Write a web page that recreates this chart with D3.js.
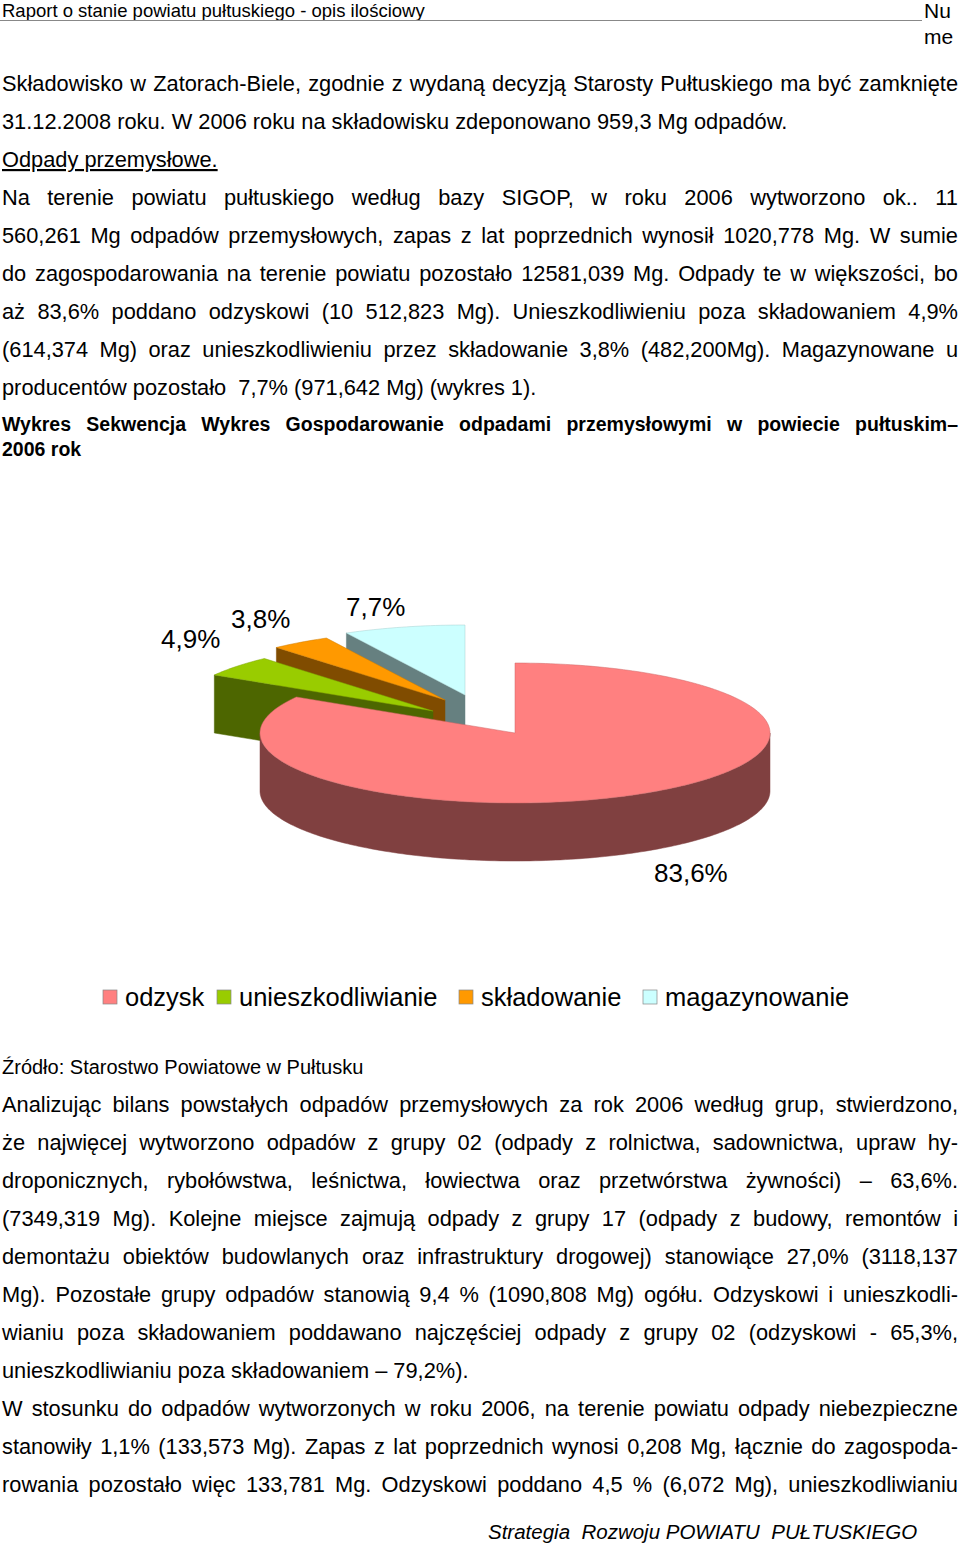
<!DOCTYPE html>
<html><head><meta charset="utf-8">
<script src="https://d3js.org/d3.v7.min.js"></script>
<style>body{margin:0;background:#fff}svg{display:block;font-family:"Liberation Sans",Arial,sans-serif}</style>
</head><body><svg id="page" width="960" height="1546"></svg>
<script>
var categories = ["odzysk", "unieszkodliwianie", "składowanie", "magazynowanie"];
var shares = [83.6, 4.9, 3.8, 7.7];
var shareLabels = ["83,6%", "4,9%", "3,8%", "7,7%"];
var topColors = ["#ff8080", "#99cc00", "#ff9900", "#ccffff"];
var sideColors = ["#804040", "#4d6600", "#804c00", "#668080"];

var textTop = [
  ["Składowisko w Zatorach-Biele,  zgodnie z wydaną decyzją Starosty Pułtuskiego ma być zamknięte", 1],
  ["31.12.2008 roku. W 2006 roku na składowisku zdeponowano 959,3 Mg odpadów.", 0],
  ["Odpady przemysłowe.", 2],
  ["Na terenie powiatu pułtuskiego według bazy SIGOP, w roku 2006 wytworzono ok.. 11", 1],
  ["560,261 Mg odpadów przemysłowych, zapas z lat poprzednich wynosił 1020,778 Mg. W sumie", 1],
  ["do zagospodarowania na terenie powiatu pozostało 12581,039 Mg. Odpady te w większości, bo", 1],
  ["aż 83,6% poddano odzyskowi (10 512,823 Mg). Unieszkodliwieniu poza składowaniem 4,9%", 1],
  ["(614,374 Mg) oraz unieszkodliwieniu przez składowanie 3,8% (482,200Mg). Magazynowane u", 1],
  ["producentów pozostało  7,7% (971,642 Mg) (wykres 1).", 0]
];
var textBottom = [
  ["Analizując bilans powstałych odpadów przemysłowych za rok 2006 według grup, stwierdzono,", 1],
  ["że najwięcej wytworzono odpadów z grupy 02 (odpady z rolnictwa, sadownictwa, upraw hy-", 1],
  ["droponicznych, rybołówstwa, leśnictwa, łowiectwa oraz przetwórstwa żywności) – 63,6%.", 1],
  ["(7349,319 Mg). Kolejne miejsce zajmują odpady z grupy 17 (odpady z budowy, remontów i", 1],
  ["demontażu obiektów budowlanych oraz infrastruktury drogowej) stanowiące 27,0% (3118,137", 1],
  ["Mg). Pozostałe grupy odpadów stanowią 9,4 % (1090,808 Mg) ogółu. Odzyskowi i unieszkodli-", 1],
  ["wianiu poza składowaniem poddawano najczęściej odpady z grupy 02 (odzyskowi - 65,3%,", 1],
  ["unieszkodliwianiu poza składowaniem – 79,2%).", 0],
  ["W stosunku do odpadów wytworzonych w roku 2006, na terenie powiatu odpady niebezpieczne", 1],
  ["stanowiły 1,1% (133,573 Mg). Zapas z lat poprzednich wynosi 0,208 Mg, łącznie do zagospoda-", 1],
  ["rowania pozostało więc 133,781 Mg. Odzyskowi poddano 4,5 % (6,072 Mg), unieszkodliwianiu", 1]
];

var svg = d3.select("#page");

function writeLine(str, y, justify, opt) {
  opt = opt || {};
  var x0 = 2, x1 = 958, size = opt.size || 21.8;
  var g = svg.append("g").attr("font-size", size).attr("font-weight", opt.weight || "normal");
  if (!justify) {
    var t = g.append("text").attr("x", x0).attr("y", y).text(str).style("white-space", "pre");
    if (opt.underline) t.attr("text-decoration", "underline");
    return;
  }
  var words = str.split(/\s+/);
  var nodes = words.map(function(w) { return g.append("text").attr("y", y).text(w); });
  var widths = nodes.map(function(n) { return n.node().getComputedTextLength(); });
  var gap = (x1 - x0 - d3.sum(widths)) / (words.length - 1);
  var x = x0;
  nodes.forEach(function(n, i) { n.attr("x", x); x += widths[i] + gap; });
}

// header
svg.append("text").attr("x", 2).attr("y", 17).attr("font-size", 18.5)
  .text("Raport o stanie powiatu pułtuskiego - opis ilościowy");
svg.append("line").attr("x1", 0).attr("x2", 922).attr("y1", 20.5).attr("y2", 20.5).attr("stroke", "#888");
svg.append("text").attr("x", 924).attr("y", 18).attr("font-size", 21).text("Nu");
svg.append("text").attr("x", 924).attr("y", 44).attr("font-size", 21).text("me");

textTop.forEach(function(d, i) { writeLine(d[0], 91 + i * 38, d[1] === 1, {underline: d[1] === 2}); });
writeLine("Wykres Sekwencja Wykres Gospodarowanie odpadami przemysłowymi w powiecie pułtuskim–", 431, true, {size: 19.5, weight: "bold"});
writeLine("2006 rok", 456, false, {size: 19.5, weight: "bold"});

// 3D pie
var cx = 515, cy = 733, rx = 255, ry = 70, depth = 58;
var pie = d3.pie().sort(null).value(function(d) { return d; }).startAngle(0).endAngle(2 * Math.PI);
var arcs = pie(shares);
var offsets = [[0, 0], [-82, -22], [-70, -33], [-50, -38]];
function pt(a, ox, oy, dz) { return [cx + ox + rx * Math.sin(a), cy + oy - ry * Math.cos(a) + (dz || 0)]; }
function arcPts(a0, a1, ox, oy, dz) {
  var n = Math.max(2, Math.ceil((a1 - a0) / 0.02)), s = d3.range(n + 1).map(function(i) { return a0 + (a1 - a0) * i / n; });
  return s.map(function(a) { return pt(a, ox, oy, dz); });
}
var line = d3.line();
var chart = svg.append("g");

function drawSlice(d, i) {
  var o = offsets[i], c = [cx + o[0], cy + o[1]];
  if (i > 0) {
    var r = pt(d.startAngle, o[0], o[1]);
    chart.append("path").attr("fill", sideColors[i]).attr("stroke", sideColors[i]).attr("stroke-width", 0.5)
      .attr("d", line([c, r, [r[0], r[1] + depth], [c[0], c[1] + depth]]) + "Z");
  }
  var a0 = Math.max(d.startAngle, Math.PI / 2), a1 = Math.min(d.endAngle, 3 * Math.PI / 2);
  if (a1 > a0) {
    var top = arcPts(a0, a1, o[0], o[1], 0), bot = arcPts(a0, a1, o[0], o[1], depth).reverse();
    chart.append("path").attr("fill", sideColors[i]).attr("stroke", sideColors[i]).attr("stroke-width", 0.5)
      .attr("d", line(top.concat(bot)) + "Z");
  }
  chart.append("path").attr("fill", topColors[i]).attr("stroke", d3.color(topColors[i]).darker(0.6)).attr("stroke-width", 0.5)
    .attr("d", line([c].concat(arcPts(d.startAngle, d.endAngle, o[0], o[1], 0))) + "Z");
}
[3, 2, 1, 0].forEach(function(i) { drawSlice(arcs[i], i); });

var labelPos = [[654, 882], [161, 648], [231, 628], [346, 616]];
shareLabels.forEach(function(t, i) {
  svg.append("text").attr("x", labelPos[i][0]).attr("y", labelPos[i][1]).attr("font-size", 26).text(t);
});

// legend
var legX = [103, 217, 459, 643];
var leg = svg.append("g").attr("font-size", 25.5);
categories.forEach(function(c, i) {
  leg.append("rect").attr("x", legX[i]).attr("y", 990).attr("width", 14).attr("height", 14)
    .attr("fill", topColors[i]).attr("stroke", "#888").attr("stroke-width", 0.7);
  leg.append("text").attr("x", legX[i] + 22).attr("y", 1006).text(c);
});

writeLine("Źródło: Starostwo Powiatowe w Pułtusku", 1074, false, {size: 20});
textBottom.forEach(function(d, i) { writeLine(d[0], 1112 + i * 38, d[1] === 1); });

svg.append("text").attr("x", 488).attr("y", 1539).attr("font-size", 20.5).attr("font-style", "italic")
  .style("white-space", "pre").text("Strategia  Rozwoju POWIATU  PUŁTUSKIEGO");
</script></body></html>
